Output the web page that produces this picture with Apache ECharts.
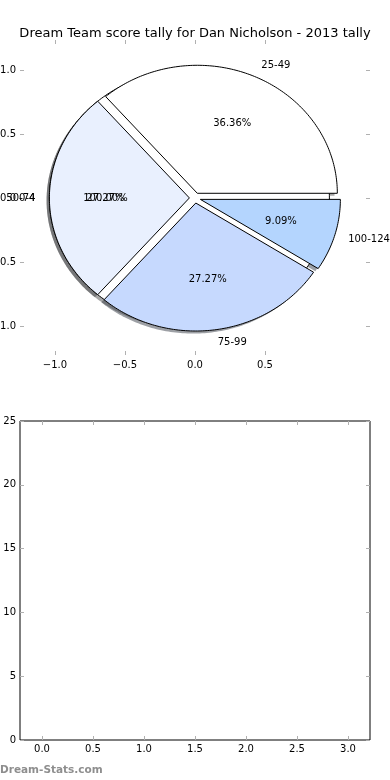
<!DOCTYPE html>
<html><head><meta charset="utf-8">
<script src="https://cdn.jsdelivr.net/npm/echarts@6/dist/echarts.min.js"></script>
<style>html,body{margin:0;padding:0;background:#fff}#c{width:390px;height:780px}</style>
</head><body><div id="c"></div>
<script>
const chartTitle = 'Dream Team score tally for Dan Nicholson - 2013 tally';
// pie drawn first (underneath): a single full bucket
const baseCategories = ['0-4'];
const baseCounts = [1];
const baseColors = ['#ffffff'];
// the tally pie drawn on top
const categories = ['25-49', '50-74', '75-99', '100-124'];
const counts = [4, 3, 3, 1];
const sliceColors = ['#ffffff', '#e9f0fe', '#c6d9fe', '#b4d5fe'];
const pieXTicks = [-1.0, -0.5, 0.0, 0.5];
const pieYTicks = [-1.0, -0.5, 0.0, 0.5, 1.0];
const barXTicks = [0, 0.5, 1, 1.5, 2, 2.5, 3];
const barYTicks = [0, 5, 10, 15, 20, 25];
const footer = 'Dream-Stats.com';

const FONT = 'DejaVu Sans';
const EXPLODE = 0.04, SHADOW = 0.02;

function makePie(cats, vals, cols) {
  const total = vals.reduce((a, b) => a + b, 0);
  const starts = [];
  let c = 0; vals.forEach(v => { starts.push(c); c += v; });
  return {
    cats, vals, cols, total,
    data: cats.map(n => ({ name: n, value: [0, 0] })),
    geom(i) {
      const a0 = starts[i] / total * 2 * Math.PI;
      const a1 = (starts[i] + vals[i]) / total * 2 * Math.PI;
      const m = (a0 + a1) / 2;
      return { a0, a1, m, full: vals[i] === total, cx: EXPLODE * Math.cos(m), cy: EXPLODE * Math.sin(m) };
    }
  };
}
const basePie = makePie(baseCategories, baseCounts, baseColors);
const mainPie = makePie(categories, counts, sliceColors);

function arc(api, cx, cy, a0, a1, r) {
  const pts = [];
  const n = Math.max(4, Math.ceil((a1 - a0) / (Math.PI / 180)));
  for (let k = 0; k <= n; k++) {
    const a = a0 + (a1 - a0) * k / n;
    pts.push(api.coord([cx + r * Math.cos(a), cy + r * Math.sin(a)]));
  }
  return pts;
}
function wedgePoints(api, g, dx, dy) {
  const rim = arc(api, g.cx + dx, g.cy + dy, g.a0, g.a1, 1);
  return g.full ? rim.slice(0, -1) : [api.coord([g.cx + dx, g.cy + dy])].concat(rim);
}
function shade(hex) {
  const n = parseInt(hex.slice(1), 16);
  const r = Math.round(((n >> 16) & 255) * 0.3), g = Math.round(((n >> 8) & 255) * 0.3), b = Math.round((n & 255) * 0.3);
  return 'rgba(' + r + ',' + g + ',' + b + ',0.5)';
}
const shadowRenderer = pie => (params, api) => {
  const i = params.dataIndex, g = pie.geom(i);
  return { type: 'polygon', shape: { points: wedgePoints(api, g, -SHADOW, -SHADOW) }, style: { fill: shade(pie.cols[i]) } };
};
const wedgeRenderer = pie => (params, api) => {
  const i = params.dataIndex, g = pie.geom(i);
  return { type: 'polygon', shape: { points: wedgePoints(api, g, 0, 0) }, style: { fill: pie.cols[i], stroke: '#000', lineWidth: 1 } };
};
const labelRenderer = pie => (params, api) => {
  const i = params.dataIndex, g = pie.geom(i);
  const pct = (pie.vals[i] / pie.total * 100).toFixed(2) + '%';
  const lx = g.cx + 1.1 * Math.cos(g.m), ly = g.cy + 1.1 * Math.sin(g.m);
  const px = g.cx + 0.6 * Math.cos(g.m), py = g.cy + 0.6 * Math.sin(g.m);
  const lp = api.coord([lx, ly]), pp = api.coord([px, py]);
  return { type: 'group', children: [
    { type: 'text', style: { text: pie.cats[i], x: lp[0], y: lp[1], align: lx > 0 ? 'left' : 'right', verticalAlign: 'middle', fill: '#000', fontSize: 10, fontFamily: FONT } },
    { type: 'text', style: { text: pct, x: pp[0], y: pp[1], align: 'center', verticalAlign: 'middle', fill: '#000', fontSize: 10, fontFamily: FONT } }
  ] };
};
function pieSeries(name, pie, renderer, z) {
  return { type: 'custom', name, xAxisIndex: 0, yAxisIndex: 0, clip: false, silent: true, renderItem: renderer(pie), data: pie.data, z };
}

const fmt1 = v => (Math.abs(v) < 1e-9 ? 0 : v).toFixed(1).replace('-', '\u2212');
const tickStyle = { show: true, inside: true, length: 4, lineStyle: { color: '#b0b0b0', width: 1 } };
const lbl = { color: '#000', fontSize: 10, fontFamily: FONT };
function valAxis(o) { return Object.assign({ type: 'value', splitLine: { show: false }, axisLine: { show: false, onZero: false } }, o); }

const option = {
  animation: false,
  backgroundColor: '#fff',
  title: { text: chartTitle, left: 'center', top: 22, textStyle: { color: '#000', fontSize: 13, fontWeight: 'normal', fontFamily: FONT } },
  graphic: [{ type: 'text', left: 0, top: 765, style: { text: footer, fill: '#8e8e8e', fontSize: 10.5, fontWeight: 'bold', fontFamily: FONT } }],
  grid: [
    { left: 20, right: 20, top: 40, height: 315, show: false, containLabel: false, outerBoundsMode: 'none' },
    { left: 20, right: 20, top: 421, height: 319, show: true, borderColor: '#000', borderWidth: 1, backgroundColor: 'transparent', containLabel: false, outerBoundsMode: 'none' }
  ],
  xAxis: [
    valAxis({ gridIndex: 0, min: -1.25, max: 1.25, position: 'bottom', axisTick: Object.assign({ customValues: pieXTicks }, tickStyle), axisLabel: Object.assign({ customValues: pieXTicks, formatter: fmt1, margin: 5 }, lbl) }),
    valAxis({ gridIndex: 0, min: -1.25, max: 1.25, position: 'top', axisTick: Object.assign({ customValues: pieXTicks }, tickStyle), axisLabel: { show: false } }),
    valAxis({ gridIndex: 1, min: -0.2157, max: 3.2157, position: 'bottom', axisTick: Object.assign({ customValues: barXTicks }, tickStyle), axisLabel: Object.assign({ customValues: barXTicks, formatter: fmt1, margin: 4 }, lbl) }),
    valAxis({ gridIndex: 1, min: -0.2157, max: 3.2157, position: 'top', axisTick: Object.assign({ customValues: barXTicks }, tickStyle), axisLabel: { show: false } })
  ],
  yAxis: [
    valAxis({ gridIndex: 0, min: -1.227, max: 1.234, position: 'left', axisTick: Object.assign({ customValues: pieYTicks }, tickStyle), axisLabel: Object.assign({ customValues: pieYTicks, formatter: fmt1, margin: 4 }, lbl) }),
    valAxis({ gridIndex: 0, min: -1.227, max: 1.234, position: 'right', axisTick: Object.assign({ customValues: pieYTicks }, tickStyle), axisLabel: { show: false } }),
    valAxis({ gridIndex: 1, min: 0, max: 25, interval: 5, position: 'left', axisTick: Object.assign({ customValues: barYTicks }, tickStyle), axisLabel: Object.assign({ customValues: barYTicks, formatter: v => String(v), margin: 4 }, lbl) }),
    valAxis({ gridIndex: 1, min: 0, max: 25, interval: 5, position: 'right', axisTick: Object.assign({ customValues: barYTicks }, tickStyle), axisLabel: { show: false } })
  ],
  series: [
    pieSeries('base shadow', basePie, shadowRenderer, 1),
    pieSeries('tally shadow', mainPie, shadowRenderer, 1),
    pieSeries('base', basePie, wedgeRenderer, 2),
    pieSeries('tally', mainPie, wedgeRenderer, 2),
    pieSeries('base labels', basePie, labelRenderer, 3),
    pieSeries('tally labels', mainPie, labelRenderer, 3)
  ]
};
const chart = echarts.init(document.getElementById('c'), null, { renderer: 'canvas' });
chart.setOption(option);
</script></body></html>
